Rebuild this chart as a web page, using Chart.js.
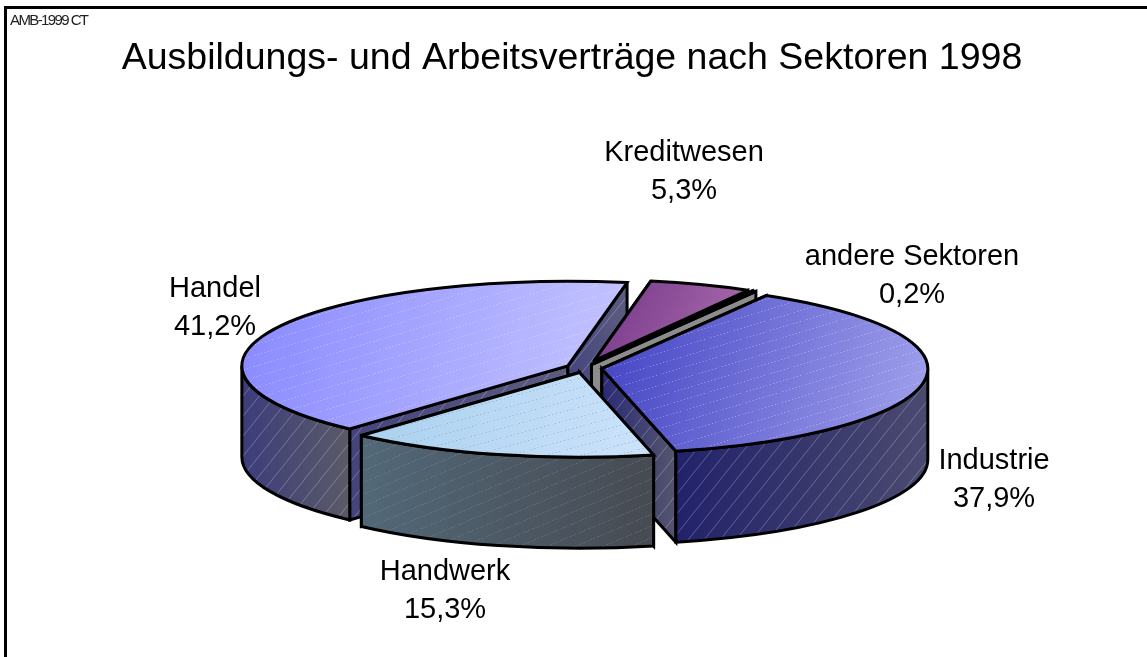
<!DOCTYPE html>
<html>
<head>
<meta charset="utf-8">
<title>Ausbildungs- und Arbeitsverträge nach Sektoren 1998</title>
<script src="https://cdn.jsdelivr.net/npm/chart.js@4/dist/chart.umd.min.js"></script>
<style>
  html, body { margin: 0; padding: 0; background: #fff; }
  #wrap { width: 1147px; height: 657px; }
</style>
</head>
<body>
<div id="wrap"><canvas id="pieChart"></canvas></div>
<script>
// Data, in drawing order (back to front)
const categories = ["Handel", "Kreditwesen", "andere Sektoren", "Industrie", "Handwerk"];
const shares = [41.2, 5.3, 0.2, 37.9, 15.3];
const chartTitle = "Ausbildungs- und Arbeitsverträge nach Sektoren 1998";
const stamp = "AMB-1999 CT";

// How far each slice is pulled out of the pie, and its size against the full radius
const explode = [18, 30, 15, 18, 18];
const sliceScale = [1, 0.955, 1, 1, 1];

// Colours: [from, to]
const topColors = [
  ["#8a8aff", "#c6c6ff"],
  ["#7a3a8c", "#b478b4"],
  ["#000000", "#000000"],
  ["#4444c4", "#a0a0ec"],
  ["#a6cfec", "#cce2fb"],
];
const wallColors = [
  ["#3c3c7c", "#5a5a68"],
  ["#555566", "#555566"],
  ["#8c8c8c", "#8c8c8c"],
  ["#22226a", "#4a4a70"],
  ["#526878", "#474b52"],
];
const radialColors = [
  ["#44447c", "#5c5c80"],
  ["#555566", "#555566"],
  ["#8c8c8c", "#8c8c8c"],
  ["#2a2a76", "#55556e"],
  ["#526878", "#474b52"],
];

// Label centres (first line, second line follows)
const labelPos = [
  [215, 289],
  [684, 153],
  [912, 257],
  [994, 461],
  [445, 572],
];

// Pie geometry on the page
const pieX = 584;
const pieY = 368;
const pieRadius = 326;
const squash = 0.26;
const depth = 91;

// Diagonal stripe tile
function makeTile(size, color, dashed) {
  const c = document.createElement("canvas");
  c.width = size;
  c.height = size;
  const t = c.getContext("2d");
  t.strokeStyle = color;
  t.lineWidth = 1;
  if (dashed) {
    const step = (size * Math.SQRT2) / 3;
    t.setLineDash([step - 2, 2]);
  }
  [-size, 0, size].forEach((o) => {
    t.beginPath();
    t.moveTo(o, size);
    t.lineTo(o + size, 0);
    t.stroke();
  });
  return c;
}

function stripes(ctx, size, color, dashed, sy) {
  const p = ctx.createPattern(makeTile(size, color, dashed), "repeat");
  p.setTransform(new DOMMatrix().scale(1, sy));
  return p;
}

function gradient(ctx, x0, y0, x1, y1, colors) {
  const g = ctx.createLinearGradient(x0, y0, x1, y1);
  g.addColorStop(0, colors[0]);
  g.addColorStop(1, colors[1]);
  return g;
}

const pie3d = {
  id: "pie3d",
  beforeDatasetsDraw(chart) {
    const ctx = chart.ctx;
    const arcs = chart.getDatasetMeta(0).data;
    const topTile = stripes(ctx, 36, "rgba(255,255,255,0.4)", true, 0.3);
    const wallTile = stripes(ctx, 16, "rgba(255,255,255,0.25)", false, 1.25);
    const craftTop = stripes(ctx, 36, "rgba(90,110,135,0.4)", true, 0.27);
    const craftWall = stripes(ctx, 28, "rgba(185,195,205,0.3)", true, 0.42);
    const topTiles = [topTile, null, null, topTile, craftTop];
    const wallTiles = [wallTile, null, null, wallTile, craftWall];

    const fillAndStroke = (fill, tile) => {
      ctx.fillStyle = fill;
      ctx.fill();
      if (tile) {
        ctx.fillStyle = tile;
        ctx.fill();
      }
      ctx.stroke();
    };

    ctx.save();
    ctx.strokeStyle = "#000";
    ctx.lineWidth = 3;
    ctx.lineJoin = "miter";
    ctx.miterLimit = 3;

    arcs.forEach((arc, i) => {
      const a0 = arc.startAngle;
      const a1 = arc.endAngle;
      const mid = (a0 + a1) / 2;
      const r = arc.outerRadius * sliceScale[i];
      const ry = r * squash;
      // arc.x is the library's centre, moved to the pie's place on the page
      const cx = pieX + (arc.x - chart.chartArea.left - chart.chartArea.width / 2) + Math.cos(mid) * explode[i];
      const cy = pieY + Math.sin(mid) * explode[i] * squash;
      const px = (a) => cx + Math.cos(a) * r;
      const py = (a) => cy + Math.sin(a) * ry;

      // Radial faces
      [a0, a1].forEach((a) => {
        ctx.beginPath();
        ctx.moveTo(cx, cy);
        ctx.lineTo(px(a), py(a));
        ctx.lineTo(px(a), py(a) + depth);
        ctx.lineTo(cx, cy + depth);
        ctx.closePath();
        fillAndStroke(
          gradient(ctx, Math.min(cx, px(a)), 0, Math.max(cx, px(a)), 0, radialColors[i]),
          wallTiles[i]
        );
      });

      // Outer wall, only where it faces the viewer
      for (let k = -1; k <= 2; k++) {
        const lo = Math.max(a0, k * 2 * Math.PI);
        const hi = Math.min(a1, k * 2 * Math.PI + Math.PI);
        if (hi <= lo) continue;
        ctx.beginPath();
        ctx.ellipse(cx, cy, r, ry, 0, lo, hi);
        ctx.lineTo(px(hi), py(hi) + depth);
        ctx.ellipse(cx, cy + depth, r, ry, 0, hi, lo, true);
        ctx.closePath();
        fillAndStroke(
          gradient(ctx, Math.min(px(lo), px(hi)), 0, Math.max(px(lo), px(hi)), 0, wallColors[i]),
          wallTiles[i]
        );
      }

      // Top face
      ctx.beginPath();
      ctx.moveTo(cx, cy);
      ctx.ellipse(cx, cy, r, ry, 0, a0, a1);
      ctx.closePath();
      const xs = [cx];
      for (let t = 0; t <= 40; t++) xs.push(px(a0 + ((a1 - a0) * t) / 40));
      fillAndStroke(
        gradient(ctx, Math.min(...xs), cy - ry / 2, Math.max(...xs), cy + ry / 2, topColors[i]),
        topTiles[i]
      );
    });
    ctx.restore();
    return false;
  },
  afterDraw(chart) {
    const ctx = chart.ctx;
    ctx.save();
    // Frame: only the top and left rules exist
    ctx.fillStyle = "#000";
    ctx.fillRect(4, 6, 1143, 3);
    ctx.fillRect(4, 6, 3, 651);

    ctx.font = "15px 'Liberation Sans'";
    ctx.letterSpacing = "-1.6px";
    ctx.textAlign = "left";
    ctx.textBaseline = "middle";
    ctx.fillStyle = "#222";
    ctx.fillText(stamp, 10, 21);
    ctx.letterSpacing = "0px";

    // Slice labels
    ctx.fillStyle = "#000";
    ctx.font = "29px 'Liberation Sans'";
    ctx.textAlign = "center";
    categories.forEach((name, i) => {
      const value = shares[i].toFixed(1).replace(".", ",") + "%";
      ctx.fillText(name, labelPos[i][0], labelPos[i][1]);
      ctx.fillText(value, labelPos[i][0], labelPos[i][1] + 38);
    });
    ctx.restore();
  },
};

new Chart(document.getElementById("pieChart"), {
  type: "pie",
  data: {
    labels: categories,
    datasets: [{ data: shares, backgroundColor: topColors.map((c) => c[0]) }],
  },
  options: {
    responsive: true,
    maintainAspectRatio: false,
    animation: false,
    rotation: 222,
    radius: pieRadius,
    layout: { padding: { right: 3 } },
    plugins: {
      legend: { display: false },
      tooltip: { enabled: false },
      title: {
        display: true,
        text: chartTitle,
        color: "#000",
        font: { family: "'Liberation Sans'", size: 37.5, weight: "normal" },
        padding: { top: 36.5, bottom: 0 },
      },
    },
  },
  plugins: [pie3d],
});
</script>
</body>
</html>
